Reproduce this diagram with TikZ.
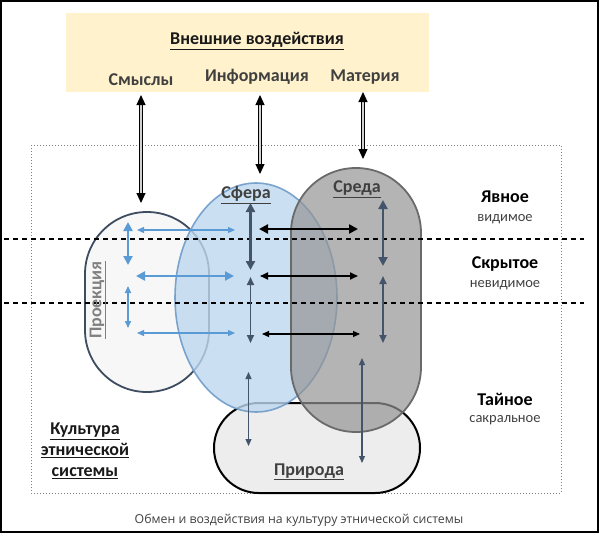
\documentclass[tikz,border=0pt]{standalone}
\usepackage{fontspec}
\setmainfont{Carlito}
\newfontfamily\capfont{Open Sans}
\usetikzlibrary{arrows,arrows.meta,positioning,shapes,calc}

\definecolor{beige}{HTML}{FFF2CC}
\definecolor{sferablue}{HTML}{BDD7EE}
\definecolor{sferaline}{HTML}{6F9CC9}
\definecolor{sredagray}{HTML}{949494}
\definecolor{sredaline}{HTML}{6A6A6A}
\definecolor{slate}{HTML}{44546A}
\definecolor{projblue}{HTML}{5B9BD5}
\definecolor{txtgray}{HTML}{404040}

\tikzset{
  bold17/.style={font=\bfseries\fontsize{18}{21}\selectfont},
  reg14/.style={font=\fontsize{14.5}{17}\selectfont, text=txtgray},
  extarrow/.style={double=gray!35, double distance=1.6pt, line width=1.1pt,
    {Triangle[length=10pt,width=9pt]}-{Triangle[length=10pt,width=9pt]}},
  thickarr/.style={line width=2.5pt, {Triangle[length=9pt,width=9pt]}-{Triangle[length=9pt,width=9pt]}},
  midarr/.style={line width=1.7pt, {Triangle[length=8pt,width=7pt]}-{Triangle[length=8pt,width=7pt]}},
  thinarr/.style={line width=1.2pt, {Triangle[length=7pt,width=6pt]}-{Triangle[length=7pt,width=6pt]}},
}

\begin{document}
\begin{tikzpicture}[x=1pt,y=-1pt]
    \useasboundingbox (0,0) rectangle (599,533);
    \draw[line width=2pt] (1,1) rectangle (598,532);

    % the outside box
    \fill[beige] (66,13) rectangle (429,92);
    \node[bold17, text=black!90] (outer) at (257,41) {\underline{Внешние воздействия}};
    \node[bold17, text=txtgray] (smysly) at (141,80) {Смыслы};
    \node[bold17, text=txtgray] (info) at (257,77) {Информация};
    \node[bold17, text=txtgray] (materia) at (365,77) {Материя};

    % the culture frame
    \draw[gray, dotted, line width=1pt] (31,145) rectangle (561,493);

    % the sets
    \node[draw=black, line width=2pt, fill=black!7, rounded corners=44.9pt,
      minimum width=206pt, minimum height=90pt] (priroda) at (317,448) {};
    \node[draw=slate!90!black, line width=1.8pt, fill=black!3, rounded corners=61.9pt,
      minimum width=124pt, minimum height=180pt] (proekcija) at (147,302) {};
    \node[ellipse, draw=sferaline, line width=1.6pt, fill=sferablue, fill opacity=0.8,
      draw opacity=0.9, inner sep=0pt, minimum width=162pt, minimum height=229pt] (sfera) at (256,297.5) {};
    \node[draw=sredaline, line width=1.8pt, fill=sredagray, fill opacity=0.7, rounded corners=64.9pt,
      minimum width=130pt, minimum height=264pt] (sreda) at (356,300) {};

    % the levels
    \draw[dashed, dash pattern=on 5pt off 4pt, line width=1.3pt] (4,239) -- (584,239);
    \draw[dashed, dash pattern=on 5pt off 4pt, line width=1.3pt] (4,303) -- (584,303);

    % the texts
    \node[bold17, text=gray, rotate=90] (lproekcija) at (98,300) {\underline{Проекция}};
    \node[bold17, text=txtgray] (lsfera) at (246,195) {\underline{Сфера}};
    \node[bold17, text=txtgray] (lsreda) at (357,189) {\underline{Среда}};
    \node[bold17, text=txtgray] (lpriroda) at (309,472) {\underline{Природа}};

    \node[bold17] (yavnoe) at (505,197) {Явное};
    \node[reg14] (vidimoe) at (505,219) {видимое};
    \node[bold17] (skrytoe) at (505,264) {Скрытое};
    \node[reg14] (nevidimoe) at (505,285) {невидимое};
    \node[bold17] (tajnoe) at (505,399) {Тайное};
    \node[reg14] (sakralnoe) at (505,420) {сакральное};

    \node[bold17, align=center, text=black!90] (kultura) at (85,451)
      {\underline{Культура}\\[0pt]\underline{этнической}\\[0pt]\underline{системы}};

    \node[font=\capfont\fontsize{12.3}{14}\selectfont, text=txtgray] (caption) at (299,520)
      {Обмен и воздействия на культуру этнической системы};

    % the points for the arrows
    \coordinate (sm1) at (141,95);   \coordinate (sm2) at (141,203);
    \coordinate (in1) at (260,95);   \coordinate (in2) at (260,174);
    \coordinate (ma1) at (363,92);   \coordinate (ma2) at (363,159);

    \coordinate (pv1) at (128,222);  \coordinate (pv2) at (128,265);
    \coordinate (pv3) at (128,286);  \coordinate (pv4) at (128,328);
    \coordinate (ph1) at (137,230);  \coordinate (ph2) at (235,230);
    \coordinate (ph3) at (136,276);  \coordinate (ph4) at (234,276);
    \coordinate (ph5) at (137,333);  \coordinate (ph6) at (235,333);

    \coordinate (sv1) at (250.5,203); \coordinate (sv2) at (250.5,270);
    \coordinate (sv3) at (250.5,277); \coordinate (sv4) at (250.5,343);
    \coordinate (sv5) at (248.5,372); \coordinate (sv6) at (248.5,446);

    \coordinate (hv1) at (259,229);  \coordinate (hv2) at (358,229);
    \coordinate (hv3) at (260,276);  \coordinate (hv4) at (358,276);
    \coordinate (hv5) at (262,334);  \coordinate (hv6) at (360,334);

    \coordinate (rv1) at (383,200);  \coordinate (rv2) at (383,266);
    \coordinate (rv3) at (383,276);  \coordinate (rv4) at (383,343);
    \coordinate (rv5) at (362,358);  \coordinate (rv6) at (362,463);

    % draw the arrows
    \draw[extarrow] (sm1) -- (sm2);
    \draw[extarrow] (in1) -- (in2);
    \draw[extarrow] (ma1) -- (ma2);

    \draw[thickarr, projblue] (pv1) -- (pv2);
    \draw[thinarr, projblue, line width=1.5pt] (pv3) -- (pv4);
    \draw[thinarr, projblue] (ph1) -- (ph2);
    \draw[thickarr, projblue] (ph3) -- (ph4);
    \draw[thinarr, projblue] (ph5) -- (ph6);

    \draw[thickarr, slate] (sv1) -- (sv2);
    \draw[midarr, slate] (sv3) -- (sv4);
    \draw[thinarr, slate] (sv5) -- (sv6);

    \draw[thickarr] (hv1) -- (hv2);
    \draw[midarr] (hv3) -- (hv4);
    \draw[thinarr] (hv5) -- (hv6);

    \draw[thickarr, slate] (rv1) -- (rv2);
    \draw[midarr, slate] (rv3) -- (rv4);
    \draw[thinarr, slate] (rv5) -- (rv6);

\end{tikzpicture}
\end{document}
